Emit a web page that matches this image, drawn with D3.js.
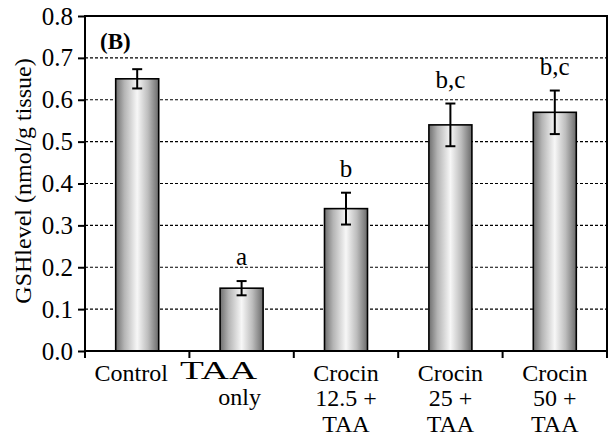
<!DOCTYPE html>
<html>
<head>
<meta charset="utf-8">
<script src="https://cdn.jsdelivr.net/npm/d3@7"></script>
<style>
  html, body { margin: 0; padding: 0; background: #fff; }
  svg { display: block; }
  text { font-family: "Liberation Serif", "Times New Roman", serif; fill: #000; }
</style>
</head>
<body>
<svg id="chart" width="610" height="440"></svg>
<script>
// GSH level per treatment group (mean ± SE)
const groups   = ["Control", "TAA only", "Crocin 12.5 + TAA", "Crocin 25 + TAA", "Crocin 50 + TAA"];
const gsh      = [0.65, 0.15, 0.34, 0.54, 0.57];
const gshErr   = [0.023, 0.017, 0.038, 0.051, 0.052];
const sigMarks = ["", "a", "b", "b,c", "b,c"];
const yTicks   = [0.0, 0.1, 0.2, 0.3, 0.4, 0.5, 0.6, 0.7, 0.8];

const svg = d3.select("#chart");
const m = { left: 85, right: 3, top: 16, bottom: 89 };
const W = 610, H = 440;
const FS = 25;

const x = d3.scaleBand().domain(groups).range([m.left, W - m.right]).paddingInner(0).paddingOuter(0);
const y = d3.scaleLinear().domain([0, 0.8]).range([H - m.bottom, m.top]);
const barW = 43;

// horizontal shading for the bars
const grad = svg.append("defs").append("linearGradient")
  .attr("id", "barShade").attr("x1", "0%").attr("x2", "100%").attr("y1", "0%").attr("y2", "0%");
grad.append("stop").attr("offset", "0%").attr("stop-color", "#6f6f6f");
grad.append("stop").attr("offset", "20%").attr("stop-color", "#b4b4b4");
grad.append("stop").attr("offset", "50%").attr("stop-color", "#f7f7f7");
grad.append("stop").attr("offset", "75%").attr("stop-color", "#bdbdbd");
grad.append("stop").attr("offset", "100%").attr("stop-color", "#6a6a6a");

// dashed gridlines
svg.append("g")
  .selectAll("line")
  .data(yTicks.filter(t => t > 0 && t < 0.8))
  .join("line")
  .attr("x1", m.left).attr("x2", W - m.right)
  .attr("y1", d => y(d)).attr("y2", d => y(d))
  .attr("stroke", "#000").attr("stroke-width", 1.2)
  .attr("stroke-dasharray", "3,2");

// bars
svg.append("g")
  .selectAll("rect")
  .data(groups)
  .join("rect")
  .attr("x", d => x(d) + x.bandwidth() / 2 - barW / 2)
  .attr("width", barW)
  .attr("y", (d, i) => y(gsh[i]))
  .attr("height", (d, i) => y(0) - y(gsh[i]))
  .attr("fill", "url(#barShade)")
  .attr("stroke", "#000").attr("stroke-width", 1.6);

// error bars
const eb = svg.append("g").attr("stroke", "#000").attr("stroke-width", 2);
groups.forEach((g, i) => {
  const cx = x(g) + x.bandwidth() / 2;
  const t = y(gsh[i] + gshErr[i]), b = y(gsh[i] - gshErr[i]);
  eb.append("line").attr("x1", cx).attr("x2", cx).attr("y1", t).attr("y2", b);
  eb.append("line").attr("x1", cx - 5).attr("x2", cx + 5).attr("y1", t).attr("y2", t);
  eb.append("line").attr("x1", cx - 5).attr("x2", cx + 5).attr("y1", b).attr("y2", b);
});

// significance letters
svg.append("g")
  .selectAll("text")
  .data(groups)
  .join("text")
  .attr("x", d => x(d) + x.bandwidth() / 2)
  .attr("y", (d, i) => y(gsh[i] + gshErr[i]) - 16)
  .attr("text-anchor", "middle")
  .attr("font-size", FS)
  .text((d, i) => sigMarks[i]);

// y axis
const yAxis = svg.append("g")
  .attr("transform", `translate(${m.left},0)`)
  .call(d3.axisLeft(y).tickValues(yTicks).tickFormat(d3.format(".1f")).tickSize(7).tickPadding(5));
yAxis.select(".domain").remove();
yAxis.selectAll("line").attr("stroke", "#000").attr("stroke-width", 2);
yAxis.selectAll("text").attr("font-size", FS).attr("font-family", "Liberation Serif, serif");

// x axis ticks at band boundaries
const xAxis = svg.append("g")
  .attr("transform", `translate(0,${y(0)})`);
xAxis.selectAll("line")
  .data(groups.map(g => x(g)).concat([W - m.right]))
  .join("line")
  .attr("x1", d => d).attr("x2", d => d)
  .attr("y1", 0).attr("y2", 7)
  .attr("stroke", "#000").attr("stroke-width", 2);

// frame
svg.append("rect")
  .attr("x", m.left).attr("y", m.top)
  .attr("width", W - m.right - m.left).attr("height", y(0) - m.top)
  .attr("fill", "none").attr("stroke", "#000").attr("stroke-width", 2);

// category labels
const lab = svg.append("g").attr("font-size", 24).attr("text-anchor", "middle");
const cx = i => x(groups[i]) + x.bandwidth() / 2;
lab.append("text").attr("x", cx(0) - 6).attr("y", 381).text("Control");
lab.append("text").attr("x", cx(1) - 23).attr("y", 379)
  .attr("font-size", 25)
  .attr("textLength", 77).attr("lengthAdjust", "spacingAndGlyphs")
  .text("TAA");
lab.append("text").attr("x", cx(1) - 2).attr("y", 405).text("only");
[["12.5 +", 2], ["25 +", 3], ["50 +", 4]].forEach(([dose, i]) => {
  lab.append("text").attr("x", cx(i)).attr("y", 381).text("Crocin");
  lab.append("text").attr("x", cx(i)).attr("y", 406).text(dose);
  lab.append("text").attr("x", cx(i)).attr("y", 432).text("TAA");
});

// panel tag
svg.append("text").attr("x", 100).attr("y", 49)
  .attr("font-size", 23).attr("font-weight", "bold").text("(B)");

// y axis title
svg.append("text")
  .attr("transform", `translate(31,181) rotate(-90)`)
  .attr("text-anchor", "middle")
  .attr("font-size", 24)
  .text("GSHlevel (nmol/g tissue)");
</script>
</body>
</html>
